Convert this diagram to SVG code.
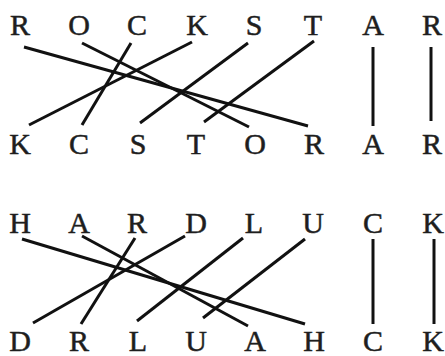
<svg xmlns="http://www.w3.org/2000/svg" width="445" height="356" viewBox="0 0 445 356">
<style>
text{font-family:"Liberation Serif","DejaVu Serif",serif;font-size:30px;fill:#1e1e1e;stroke:#1e1e1e;stroke-width:0.5;text-anchor:middle}
.c line{stroke:#111;stroke-width:3;stroke-linecap:butt}
</style>
<rect width="445" height="356" fill="#fff"/>
<g id="row1-top">
<g id="t1-R"><text x="20" y="35">R</text></g>
<g id="t1-O"><text x="79" y="35">O</text></g>
<g id="t1-C"><text x="137" y="35">C</text></g>
<g id="t1-K"><text x="197" y="35">K</text></g>
<g id="t1-S"><text x="254" y="35">S</text></g>
<g id="t1-T"><text x="313" y="35">T</text></g>
<g id="t1-A"><text x="373" y="35">A</text></g>
<g id="t1-R2"><text x="432" y="35">R</text></g>
</g>
<g id="row1-bottom">
<g id="b1-K"><text x="20" y="154">K</text></g>
<g id="b1-C"><text x="79" y="154">C</text></g>
<g id="b1-S"><text x="138" y="154">S</text></g>
<g id="b1-T"><text x="196" y="154">T</text></g>
<g id="b1-O"><text x="255" y="154">O</text></g>
<g id="b1-R"><text x="314" y="154">R</text></g>
<g id="b1-A"><text x="373" y="154">A</text></g>
<g id="b1-R2"><text x="432" y="154">R</text></g>
</g>
<g id="row2-top">
<g id="t2-H"><text x="20" y="233">H</text></g>
<g id="t2-A"><text x="79" y="233">A</text></g>
<g id="t2-R"><text x="137" y="233">R</text></g>
<g id="t2-D"><text x="196" y="233">D</text></g>
<g id="t2-L"><text x="254" y="233">L</text></g>
<g id="t2-U"><text x="313" y="233">U</text></g>
<g id="t2-C"><text x="373" y="233">C</text></g>
<g id="t2-K"><text x="433" y="233">K</text></g>
</g>
<g id="row2-bottom">
<g id="b2-D"><text x="20" y="351">D</text></g>
<g id="b2-R"><text x="79" y="351">R</text></g>
<g id="b2-L"><text x="138" y="351">L</text></g>
<g id="b2-U"><text x="196" y="351">U</text></g>
<g id="b2-A"><text x="255" y="351">A</text></g>
<g id="b2-H"><text x="314" y="351">H</text></g>
<g id="b2-C"><text x="373" y="351">C</text></g>
<g id="b2-K"><text x="433" y="351">K</text></g>
</g>
<g id="connectors" class="c">
<line x1="24" y1="47" x2="308" y2="126"/>
<line x1="82" y1="43" x2="249" y2="127"/>
<line x1="131" y1="43" x2="82" y2="125"/>
<line x1="192" y1="42" x2="29" y2="125"/>
<line x1="248" y1="43" x2="140" y2="123"/>
<line x1="314" y1="41" x2="204" y2="122"/>
<line x1="373" y1="47" x2="373" y2="126"/>
<line x1="431" y1="47" x2="431" y2="121"/>
<line x1="22" y1="239" x2="305" y2="324"/>
<line x1="82" y1="236" x2="248" y2="326"/>
<line x1="135" y1="238" x2="81" y2="324"/>
<line x1="185" y1="236" x2="33" y2="323"/>
<line x1="243" y1="238" x2="137" y2="321"/>
<line x1="305" y1="239" x2="203" y2="318"/>
<line x1="373" y1="239" x2="373" y2="324"/>
<line x1="434" y1="239" x2="434" y2="324"/>
</g>
</svg>
